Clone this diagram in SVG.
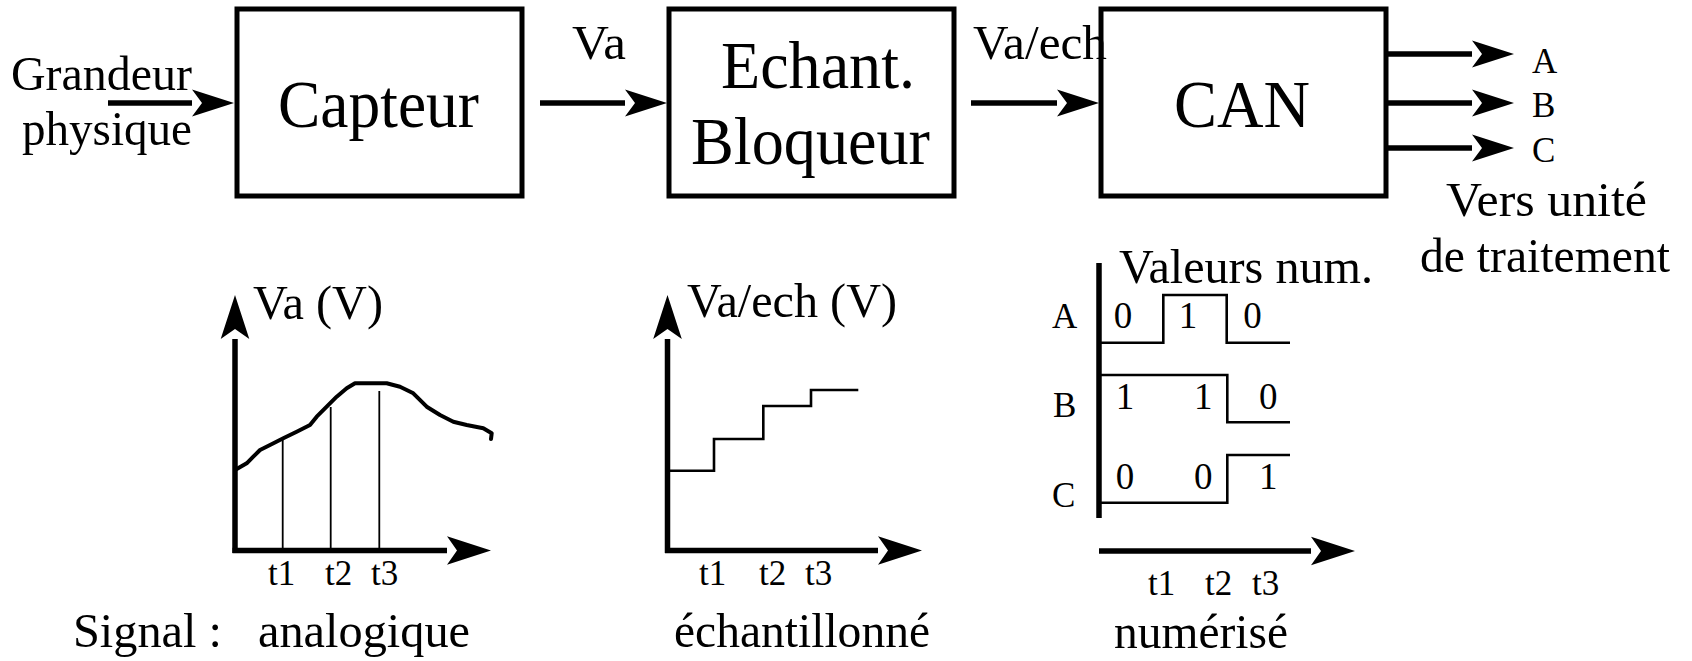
<svg xmlns="http://www.w3.org/2000/svg" width="1692" height="661" viewBox="0 0 1692 661">
  <style>
    text { font-family: "Liberation Serif", "Times New Roman", serif; fill: #000; }
    .lbl { font-size: 49px; }
    .big { font-size: 67px; }
    .sm { font-size: 35px; }
    .dg { font-size: 37px; }
    .box { fill: #fff; stroke: #000; stroke-width: 5; }
    .wire { fill: none; stroke: #000; stroke-width: 5.5; }
    .axis { fill: none; stroke: #000; stroke-width: 5.5; }
    .curve { fill: none; stroke: #000; stroke-width: 4; stroke-linejoin: round; stroke-linecap: round; }
    .step { fill: none; stroke: #000; stroke-width: 2.6; }
    .tick { fill: none; stroke: #000; stroke-width: 1.8; }
  </style>
  <defs>
    <marker id="head" markerUnits="userSpaceOnUse" markerWidth="46" markerHeight="30" refX="0" refY="0" viewBox="-2 -15 46 30" orient="auto" overflow="visible">
      <path d="M0,-13.5 L42,0 L0,13.5 L10,0 Z" fill="#000"/>
    </marker>
    <marker id="axhead" markerUnits="userSpaceOnUse" markerWidth="48" markerHeight="32" refX="0" refY="0" viewBox="-2 -16 48 32" orient="auto" overflow="visible">
      <path d="M0,-14.3 L44,0 L0,14.3 L10,0 Z" fill="#000"/>
    </marker>
  </defs>

  <!-- signal chain blocks -->
  <g id="capteur">
    <rect class="box" x="237" y="9" width="285" height="187"/>
    <text class="big" x="278" y="127" textLength="201" lengthAdjust="spacingAndGlyphs">Capteur</text>
  </g>
  <g id="echantillonneur">
    <rect class="box" x="669" y="9" width="285" height="187"/>
    <text class="big" x="721" y="88" textLength="194" lengthAdjust="spacingAndGlyphs">Echant.</text>
    <text class="big" x="691" y="164" textLength="239" lengthAdjust="spacingAndGlyphs">Bloqueur</text>
  </g>
  <g id="can">
    <rect class="box" x="1101" y="9" width="285" height="187"/>
    <text class="big" x="1174" y="127" textLength="136" lengthAdjust="spacingAndGlyphs">CAN</text>
  </g>

  <!-- connectors between blocks -->
  <g id="connectors">
    <line class="wire" x1="108" y1="103" x2="192" y2="103" marker-end="url(#head)"/>
    <line class="wire" x1="540" y1="103" x2="625" y2="103" marker-end="url(#head)"/>
    <line class="wire" x1="971" y1="103" x2="1057" y2="103" marker-end="url(#head)"/>
    <line class="wire" x1="1386" y1="54" x2="1472" y2="54" marker-end="url(#head)"/>
    <line class="wire" x1="1386" y1="103" x2="1472" y2="103" marker-end="url(#head)"/>
    <line class="wire" x1="1386" y1="148" x2="1472" y2="148" marker-end="url(#head)"/>
  </g>

  <!-- chain labels -->
  <g id="labels">
    <text class="lbl" x="11" y="90" textLength="181" lengthAdjust="spacingAndGlyphs">Grandeur</text>
    <text class="lbl" x="22" y="145" textLength="170" lengthAdjust="spacingAndGlyphs">physique</text>
    <text class="lbl" x="572" y="59" textLength="54" lengthAdjust="spacingAndGlyphs">Va</text>
    <text class="lbl" x="973" y="59" textLength="134" lengthAdjust="spacingAndGlyphs">Va/ech</text>
    <text class="sm" x="1532" y="73">A</text>
    <text class="sm" x="1532" y="117">B</text>
    <text class="sm" x="1532" y="162">C</text>
    <text class="lbl" x="1446" y="216" textLength="201" lengthAdjust="spacingAndGlyphs">Vers unité</text>
    <text class="lbl" x="1420" y="272" textLength="250" lengthAdjust="spacingAndGlyphs">de traitement</text>
  </g>

  <!-- analog signal plot -->
  <g id="plot-analogique">
    <line class="axis" x1="235" y1="553" x2="235" y2="339" marker-end="url(#axhead)"/>
    <line class="axis" x1="232.5" y1="550.5" x2="447" y2="550.5" marker-end="url(#axhead)"/>
    <path class="curve" d="M235,470 L246.7,463.3 L253.3,456.7 L260,450 L270,445 L283.3,438.3 L296.7,431.7 L310,425 L316.7,416.7 L326.7,406.7 L336.7,396.7 L346.7,388.3 L355,383.3 L386.7,383.3 L400,386.7 L413.3,393.3 L426.7,406.7 L440,415 L453.3,421.7 L466.7,425 L483.3,428.3 L491.7,433.3 L491,439"/>
    <line class="tick" x1="282.7" y1="550" x2="282.7" y2="440"/>
    <line class="tick" x1="330.7" y1="550" x2="330.7" y2="407"/>
    <line class="tick" x1="379.3" y1="550" x2="379.3" y2="391"/>
    <text class="lbl" x="253" y="319" textLength="130" lengthAdjust="spacingAndGlyphs">Va (V)</text>
    <text class="sm" x="268" y="585">t1</text>
    <text class="sm" x="325" y="585">t2</text>
    <text class="sm" x="371" y="585">t3</text>
    <text class="lbl" x="73" y="647" textLength="149" lengthAdjust="spacingAndGlyphs">Signal :</text>
    <text class="lbl" x="258" y="647" textLength="212" lengthAdjust="spacingAndGlyphs">analogique</text>
  </g>

  <!-- sampled signal plot -->
  <g id="plot-echantillonne">
    <line class="axis" x1="667.5" y1="553" x2="667.5" y2="339" marker-end="url(#axhead)"/>
    <line class="axis" x1="665" y1="550.5" x2="878" y2="550.5" marker-end="url(#axhead)"/>
    <path class="step" d="M668,470.7 H714 V439 H763.3 V406 H811 V390 H858.3"/>
    <text class="lbl" x="687" y="317" textLength="210" lengthAdjust="spacingAndGlyphs">Va/ech (V)</text>
    <text class="sm" x="699" y="585">t1</text>
    <text class="sm" x="759" y="585">t2</text>
    <text class="sm" x="805" y="585">t3</text>
    <text class="lbl" x="674" y="647" textLength="256" lengthAdjust="spacingAndGlyphs">échantillonné</text>
  </g>

  <!-- digitised signal plot -->
  <g id="plot-numerise">
    <line class="axis" x1="1099" y1="263" x2="1099" y2="518"/>
    <line class="axis" x1="1099" y1="551" x2="1311" y2="551" marker-end="url(#axhead)"/>
    <path class="step" d="M1101,342.7 H1163.3 V295 H1226.7 V342.7 H1290"/>
    <path class="step" d="M1101,375 H1227.3 V422.3 H1290"/>
    <path class="step" d="M1101,502.7 H1227.3 V455 H1290"/>
    <text class="lbl" x="1119" y="283" textLength="254" lengthAdjust="spacingAndGlyphs">Valeurs num.</text>
    <text class="sm" x="1052" y="328">A</text>
    <text class="sm" x="1053" y="417">B</text>
    <text class="sm" x="1052" y="507">C</text>
    <g text-anchor="middle">
      <text class="dg" x="1123" y="328">0</text>
      <text class="dg" x="1188" y="328">1</text>
      <text class="dg" x="1252.5" y="328">0</text>
      <text class="dg" x="1125" y="409">1</text>
      <text class="dg" x="1203.3" y="409">1</text>
      <text class="dg" x="1268.3" y="409">0</text>
      <text class="dg" x="1125" y="489">0</text>
      <text class="dg" x="1203.3" y="489">0</text>
      <text class="dg" x="1268.3" y="489">1</text>
    </g>
    <text class="sm" x="1148" y="595">t1</text>
    <text class="sm" x="1205" y="595">t2</text>
    <text class="sm" x="1252" y="595">t3</text>
    <text class="lbl" x="1114" y="648" textLength="174" lengthAdjust="spacingAndGlyphs">numérisé</text>
  </g>
</svg>
